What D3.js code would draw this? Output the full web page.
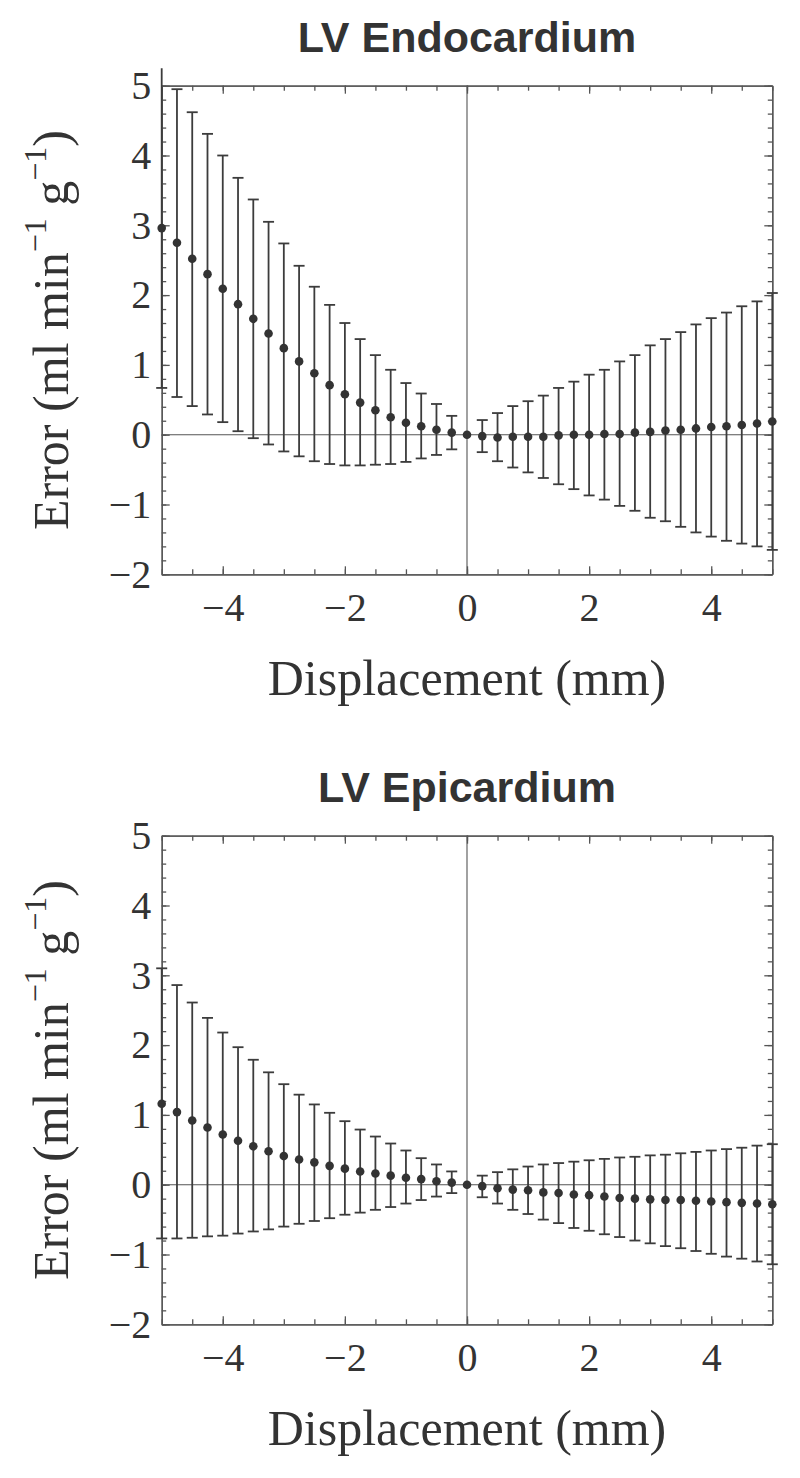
<!DOCTYPE html>
<html>
<head>
<meta charset="utf-8">
<style>
  body { margin: 0; background: #fff; }
  svg { display: block; }
  .tick text { font-family: "Liberation Serif", "Times New Roman", serif; font-size: 40px; fill: #333; }
  .domain, .tick line { stroke: #555; stroke-width: 1.3; }
</style>
</head>
<body>
<svg width="800" height="1478"></svg>
<script src="https://cdn.jsdelivr.net/npm/d3@7"></script>
<script>

  // displacement (mm)
  var disp = [-5, -4.75, -4.5, -4.25, -4, -3.75, -3.5, -3.25, -3, -2.75, -2.5, -2.25, -2, -1.75, -1.5, -1.25, -1, -0.75, -0.5, -0.25,
    0, 0.25, 0.5, 0.75, 1, 1.25, 1.5, 1.75, 2, 2.25, 2.5, 2.75, 3, 3.25, 3.5, 3.75, 4, 4.25, 4.5, 4.75, 5];

  // LV Endocardium
  var endoMean = [2.96, 2.75, 2.52, 2.30, 2.09, 1.87, 1.66, 1.45, 1.24, 1.05, 0.88, 0.71, 0.58, 0.46, 0.35, 0.25, 0.17, 0.12, 0.07, 0.03,
    0, -0.02, -0.04, -0.03, -0.03, -0.03, -0.01, 0.00, 0.00, 0.01, 0.01, 0.03, 0.04, 0.06, 0.07, 0.09, 0.11, 0.12, 0.14, 0.16, 0.19];
  var endoHigh = [5.25, 4.95, 4.62, 4.31, 4.00, 3.68, 3.37, 3.05, 2.74, 2.42, 2.12, 1.86, 1.60, 1.37, 1.14, 0.93, 0.74, 0.59, 0.44, 0.27,
    0, 0.21, 0.31, 0.41, 0.48, 0.56, 0.67, 0.76, 0.86, 0.93, 1.05, 1.14, 1.28, 1.37, 1.47, 1.58, 1.67, 1.75, 1.84, 1.91, 2.03];
  var endoLow = [0.67, 0.54, 0.41, 0.29, 0.18, 0.05, -0.05, -0.14, -0.24, -0.31, -0.38, -0.42, -0.44, -0.44, -0.43, -0.42, -0.39, -0.34, -0.29, -0.21,
    0, -0.25, -0.38, -0.47, -0.54, -0.62, -0.71, -0.78, -0.87, -0.93, -1.02, -1.09, -1.19, -1.24, -1.32, -1.40, -1.46, -1.52, -1.56, -1.60, -1.65];

  // LV Epicardium
  var epiMean = [1.16, 1.04, 0.92, 0.82, 0.72, 0.63, 0.55, 0.48, 0.41, 0.36, 0.32, 0.27, 0.23, 0.19, 0.16, 0.13, 0.10, 0.08, 0.05, 0.03,
    0, -0.02, -0.05, -0.07, -0.08, -0.11, -0.12, -0.14, -0.15, -0.17, -0.19, -0.20, -0.21, -0.22, -0.22, -0.23, -0.24, -0.25, -0.26, -0.27, -0.28];
  var epiHigh = [3.10, 2.86, 2.61, 2.39, 2.18, 1.97, 1.79, 1.61, 1.44, 1.29, 1.15, 1.03, 0.91, 0.79, 0.69, 0.59, 0.49, 0.38, 0.29, 0.19,
    0, 0.13, 0.18, 0.22, 0.26, 0.29, 0.31, 0.33, 0.35, 0.37, 0.39, 0.40, 0.42, 0.43, 0.45, 0.47, 0.49, 0.51, 0.53, 0.56, 0.58];
  var epiLow = [-0.77, -0.77, -0.76, -0.74, -0.73, -0.70, -0.67, -0.64, -0.60, -0.56, -0.52, -0.48, -0.43, -0.40, -0.36, -0.32, -0.27, -0.22, -0.17, -0.12,
    0, -0.18, -0.27, -0.36, -0.42, -0.50, -0.55, -0.62, -0.66, -0.71, -0.75, -0.80, -0.84, -0.88, -0.91, -0.95, -0.99, -1.03, -1.06, -1.10, -1.14];

  var xMajor = [-4, -2, 0, 2, 4];
  var yMajor = [-2, -1, 0, 1, 2, 3, 4, 5];

  var svg = d3.select("svg");

  var x = d3.scaleLinear().domain([-5, 5]).range([161.7, 772.3]);
  var y = d3.scaleLinear().domain([-2, 5]).range([488.6, 0]);
  var fmt = d3.format("d");

  function panel(title, mean, high, low, top) {
    var g = svg.append("g").attr("transform", "translate(0," + top + ")");
    var h = y(-2);

    // minor ticks
    var xMinor = d3.range(-5, 5.001, 0.5), yMinor = d3.range(-2, 5.001, 0.2);
    g.append("g").attr("transform", "translate(0," + h + ")")
      .call(d3.axisBottom(x).tickValues(xMinor).tickSize(-5).tickSizeOuter(0).tickFormat(""));
    g.append("g").call(d3.axisTop(x).tickValues(xMinor).tickSize(-5).tickSizeOuter(0).tickFormat(""));
    g.append("g").attr("transform", "translate(" + x(-5) + ",0)")
      .call(d3.axisLeft(y).tickValues(yMinor).tickSize(-4.5).tickSizeOuter(0).tickFormat(""));
    g.append("g").attr("transform", "translate(" + x(5) + ",0)")
      .call(d3.axisRight(y).tickValues(yMinor).tickSize(-4.5).tickSizeOuter(0).tickFormat(""));

    // major ticks with labels
    g.append("g").attr("transform", "translate(0," + h + ")")
      .call(d3.axisBottom(x).tickValues(xMajor).tickSize(-8).tickSizeOuter(0).tickPadding(18.6).tickFormat(fmt));
    g.append("g").call(d3.axisTop(x).tickValues(xMajor).tickSize(-8).tickSizeOuter(0).tickFormat(""));
    g.append("g").attr("transform", "translate(" + x(-5) + ",0)")
      .call(d3.axisLeft(y).tickValues(yMajor).tickSize(-8).tickSizeOuter(0).tickPadding(10.5).tickFormat(fmt));
    g.append("g").attr("transform", "translate(" + x(5) + ",0)")
      .call(d3.axisRight(y).tickValues(yMajor).tickSize(-8).tickSizeOuter(0).tickFormat(""));

    // zero axes
    g.append("line").attr("x1", x(-5)).attr("x2", x(5)).attr("y1", y(0)).attr("y2", y(0))
      .attr("stroke", "#555").attr("stroke-width", 1.1);
    g.append("line").attr("x1", x(0)).attr("x2", x(0)).attr("y1", y(5)).attr("y2", y(-2))
      .attr("stroke", "#555").attr("stroke-width", 1.1);

    var data = disp.map(function (d, i) {
      return {x: d, m: mean[i], hi: high[i], lo: low[i]};
    }).filter(function (d) { return d.hi !== d.lo; });

    g.append("g").selectAll("line").data(data).join("line")
      .attr("x1", function (d) { return x(d.x); })
      .attr("x2", function (d) { return x(d.x); })
      .attr("y1", function (d) { return y(d.lo); })
      .attr("y2", function (d) { return y(d.hi); })
      .attr("stroke", "#3c3c3c").attr("stroke-width", 1.8);

    var caps = [];
    data.forEach(function (d) {
      [d.lo, d.hi].forEach(function (v) { if (v <= 5 && v >= -2) caps.push({x: d.x, v: v}); });
    });
    g.append("g").selectAll("line").data(caps).join("line")
      .attr("x1", function (d) { return x(d.x) - 5.5; })
      .attr("x2", function (d) { return x(d.x) + 5.5; })
      .attr("y1", function (d) { return y(d.v); })
      .attr("y2", function (d) { return y(d.v); })
      .attr("stroke", "#3c3c3c").attr("stroke-width", 1.8);

    g.append("g").selectAll("circle").data(disp).join("circle")
      .attr("cx", function (d) { return x(d); })
      .attr("cy", function (d, i) { return y(mean[i]); })
      .attr("r", 4.3)
      .attr("fill", "#333");

    // title
    g.append("text")
      .attr("x", 467).attr("y", 51.7 - 85.7)
      .attr("text-anchor", "middle")
      .style("font-family", "'Liberation Sans', Arial, sans-serif")
      .style("font-weight", "bold")
      .style("font-size", "43px")
      .style("fill", "#333")
      .text(title);

    // x label
    g.append("text")
      .attr("x", 467).attr("y", 695 - 85.7)
      .attr("text-anchor", "middle")
      .style("font-family", "'Liberation Serif', 'Times New Roman', serif")
      .style("font-size", "50px")
      .style("fill", "#333")
      .text("Displacement (mm)");

    // y label
    var yl = g.append("text")
      .attr("transform", "translate(68," + (y(1.5)) + ") rotate(-90)")
      .attr("text-anchor", "middle")
      .style("font-family", "'Liberation Serif', 'Times New Roman', serif")
      .style("font-size", "50px")
      .style("fill", "#333");
    yl.append("tspan").text("Error (ml min");
    yl.append("tspan").attr("dy", -22).style("font-size", "32px").text("\u22121");
    yl.append("tspan").attr("dy", 22).text(" g");
    yl.append("tspan").attr("dy", -22).style("font-size", "32px").text("\u22121");
    yl.append("tspan").attr("dy", 22).text(")");
  }

  panel("LV Endocardium", endoMean, endoHigh, endoLow, 85.7);
  panel("LV Epicardium", epiMean, epiHigh, epiLow, 835.7);

</script>
</body>
</html>
